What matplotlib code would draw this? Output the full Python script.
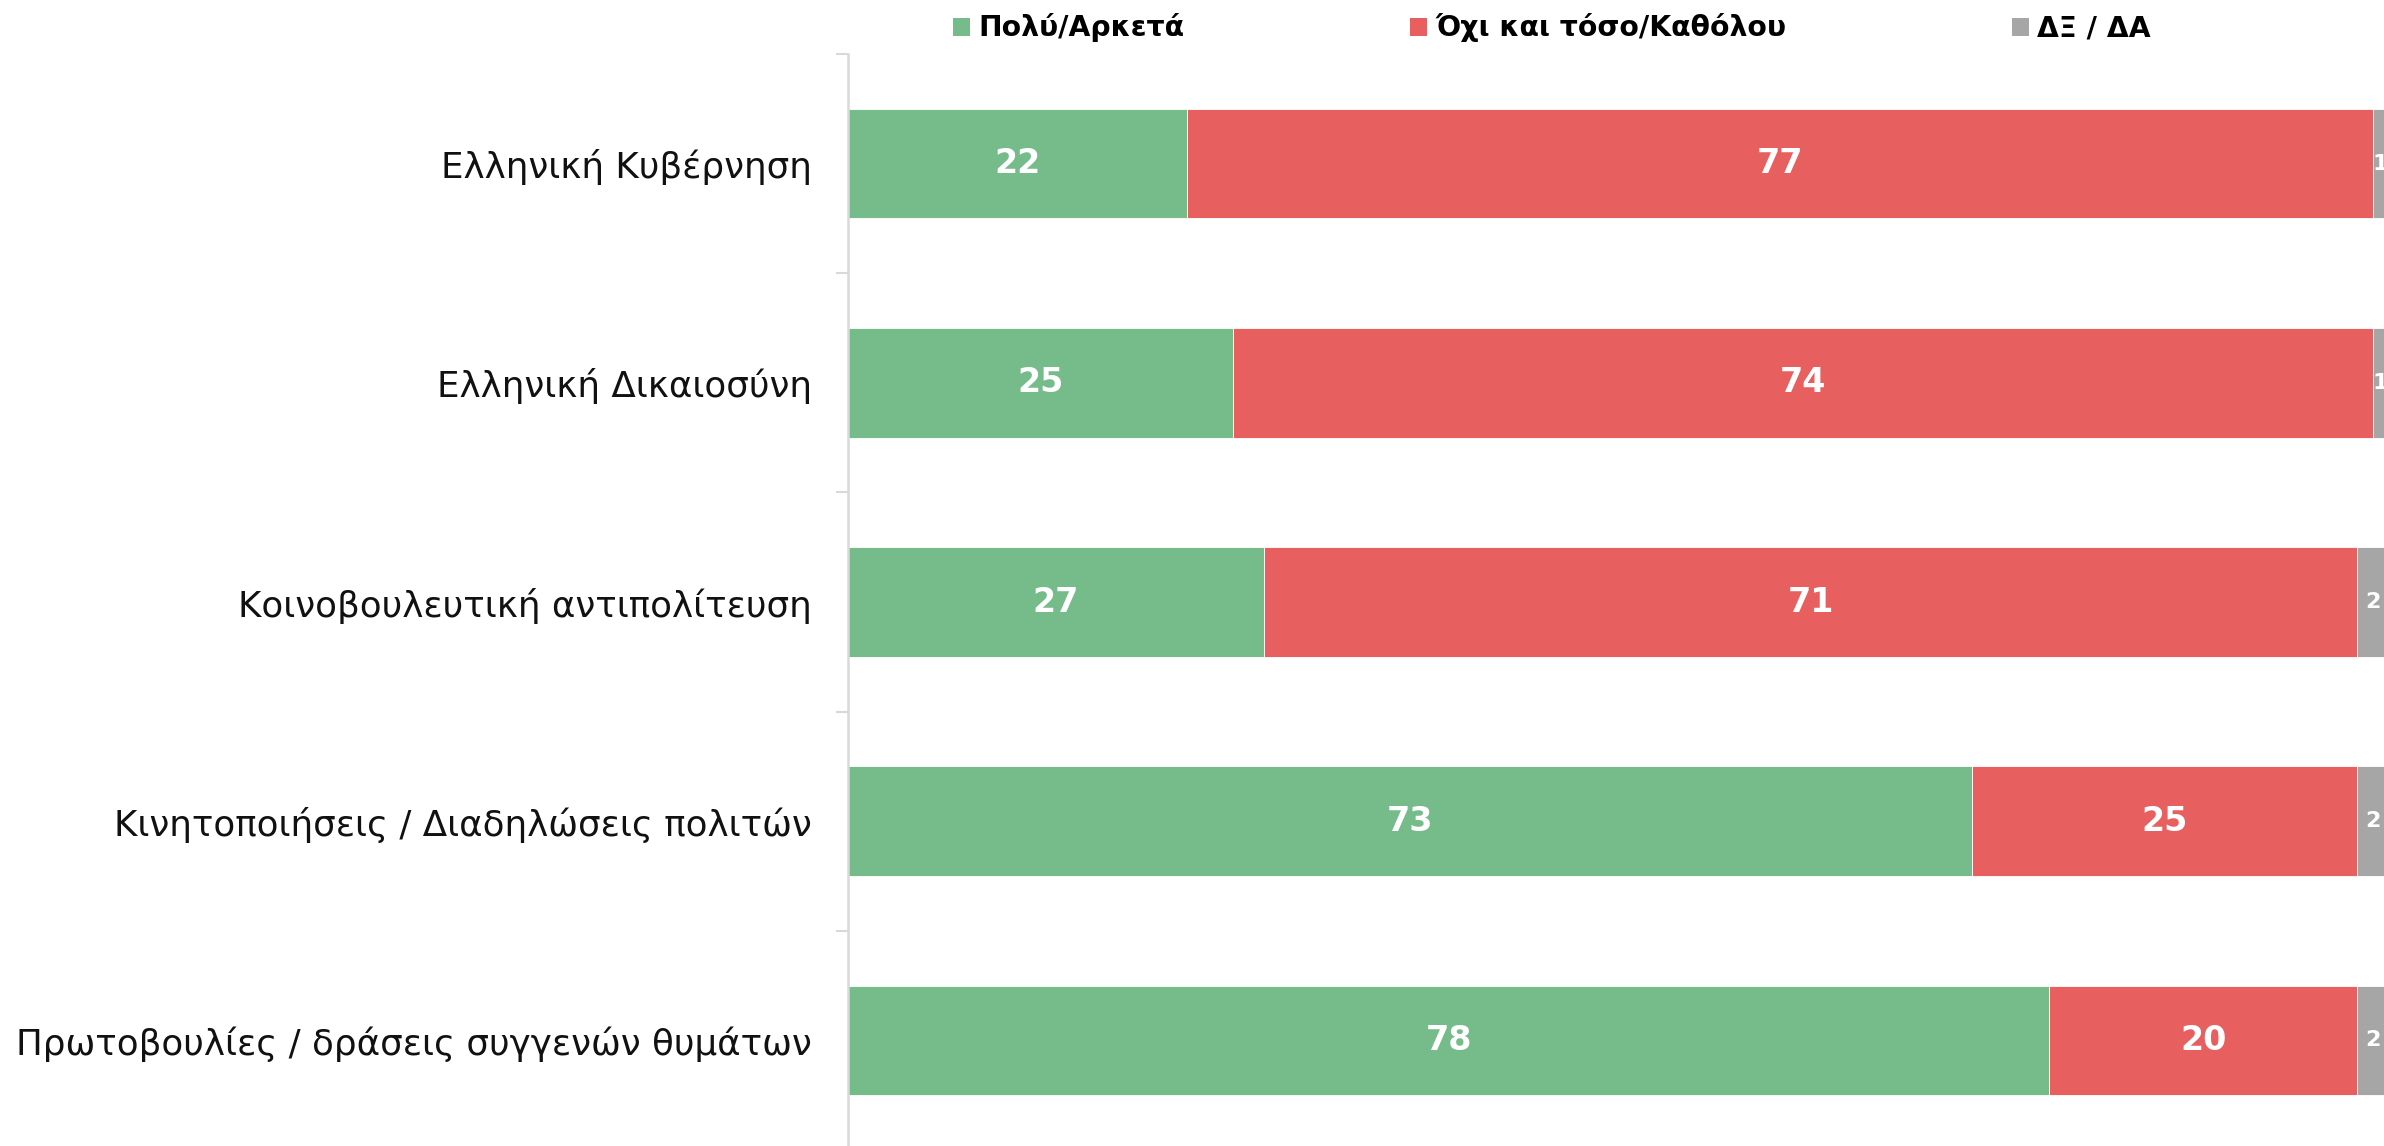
import numpy as np
import matplotlib
matplotlib.use('Agg')
import matplotlib.pyplot as plt
from matplotlib.patches import Patch

# data
categories = ['Ελληνική Κυβέρνηση', 'Ελληνική Δικαιοσύνη',
              'Κοινοβουλευτική αντιπολίτευση',
              'Κινητοποιήσεις / Διαδηλώσεις πολιτών',
              'Πρωτοβουλίες / δράσεις συγγενών θυμάτων']
series_names = ['Πολύ/Αρκετά', 'Όχι και τόσο/Καθόλου', 'ΔΞ / ΔΑ']
much = [22, 25, 27, 73, 78]
little = [77, 74, 71, 25, 20]
dk = [1, 1, 2, 2, 2]

colors = ['#76BB8A', '#E85F5F', '#A6A6A6']
W, H = 2384, 1146

plt.rcParams['font.family'] = ['DejaVu Sans']
fig = plt.figure(figsize=(W / 100, H / 100), dpi=100)
# plot area runs slightly past the bottom/right edge, as in the reference
ax = fig.add_axes([848 / W, 1 - 1150 / H, 1 - 848 / W, 1096 / H])

y = np.arange(len(categories))
left = np.zeros(len(categories))
for vals, col, name in zip([much, little, dk], colors, series_names):
    vals = np.array(vals, dtype=float)
    ax.barh(y, vals, left=left, height=0.5, color=col,
            edgecolor='white', linewidth=0.6, label=name)
    for yi, l, v in zip(y, left, vals):
        small = col == colors[2]
        ax.text(l + v / 2, yi, f'{int(v)}', ha='center', va='center',
                color='white', fontweight='bold',
                fontsize=16 if small else 24)
    left += vals

ax.set_xlim(0, (W - 848) / 15.4)
ax.set_ylim(len(categories) - 0.5, -0.5)
ax.set_xticks([])
ax.set_yticks(y)
ax.set_yticklabels(categories, fontsize=25.7, color='#111111')
ax.tick_params(axis='y', which='major', length=0, pad=26)
ax.set_yticks(np.arange(len(categories) + 1) - 0.5, minor=True)
ax.tick_params(axis='y', which='minor', length=9, width=1.5,
               color='#D9D9D9')
for s in ['top', 'right', 'bottom']:
    ax.spines[s].set_visible(False)
ax.spines['left'].set_color('#D9D9D9')
ax.spines['left'].set_linewidth(1.8)

handles = [Patch(facecolor=c, edgecolor='none') for c in colors]
leg = fig.legend(handles, series_names, loc='center left',
                 bbox_to_anchor=(953 / W, 1 - 28 / H), ncol=3,
                 frameon=False, borderpad=0, borderaxespad=0,
                 handlelength=0.6, handleheight=0.6, handletextpad=0.3,
                 columnspacing=8.0,
                 prop={'weight': 'bold', 'size': 20.3})

fig.savefig('out.png', dpi=100)
